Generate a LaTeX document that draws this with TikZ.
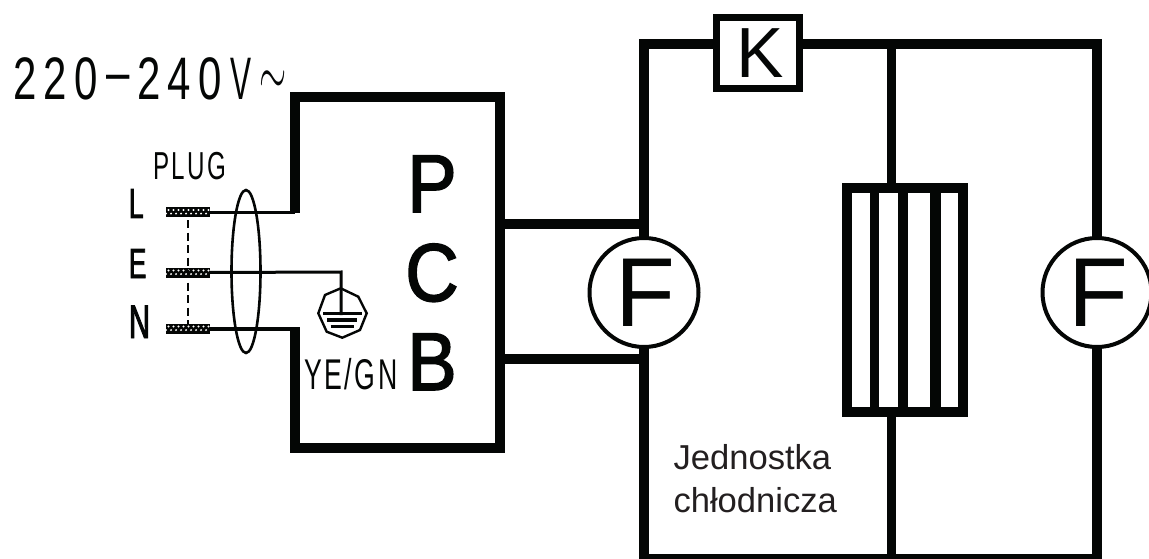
\documentclass[tikz,border=0pt]{standalone}
\usepackage{fontspec}
\usepackage{graphicx}
\usetikzlibrary{shapes.geometric}
\setmainfont{Liberation Sans}
\newfontfamily\arial{Liberation Sans}
\newfontfamily\arialb[FakeBold=2,FakeStretch=0.9]{Liberation Sans}
\newfontfamily\cad[FakeStretch=0.62,LetterSpace=6]{Liberation Sans}
\newfontfamily\cadv[FakeStretch=0.70]{Liberation Sans}
\newfontfamily\cadb[FakeStretch=0.62,FakeBold=2]{Liberation Sans}
\newcommand{\cell}[1]{\hbox to 31pt{#1\hss}}
\definecolor{ink}{HTML}{040605}
\definecolor{softink}{HTML}{231F20}
\tikzset{
  x=1pt,y=-1pt,
  heavy/.style={draw=ink,line width=10pt},
  mid/.style={draw=ink,line width=9.5pt},
  wire/.style={draw=ink,line width=3pt},
  lbl/.style={inner sep=0pt,outer sep=0pt,anchor=base west,text=ink},
  fan/.style={circle,draw=ink,line width=4pt,fill=white,minimum size=109pt,inner sep=0pt,outer sep=0pt,text=ink,font=\arial\fontsize{98}{98}\selectfont},
  relay/.style={rectangle,draw=ink,line width=7pt,fill=white,minimum width=83pt,minimum height=71pt,inner sep=0pt,outer sep=0pt,text=ink,font=\arial\fontsize{71}{71}\selectfont},
  heater/.style={rectangle,draw=ink,line width=10pt,fill=white,minimum width=115.5pt,minimum height=224pt,inner sep=0pt,outer sep=0pt},
  contact/.style={rectangle,fill=ink,minimum width=44pt,minimum height=10pt,inner sep=0pt,outer sep=0pt,
    path picture={
      \foreach \i in {0,...,8}{
        \fill[white] ([xshift=\i*5pt+2.5pt,yshift=-3pt]path picture bounding box.north west) circle (1.1pt);
        \fill[white] ([xshift=\i*5pt+0pt,yshift=-6.6pt]path picture bounding box.north west) circle (1.1pt);
      }
    }},
  pcbletter/.style={inner sep=0pt,outer sep=0pt,anchor=base,text=ink,font=\arialb\fontsize{82}{82}\selectfont},
}
\begin{document}
\begin{tikzpicture}
\path[use as bounding box,clip] (0,0) rectangle (1149,559);

% PCB outline
\coordinate (pcbA) at (294.5,213);
\coordinate (pcbB) at (294.5,97);
\coordinate (pcbC) at (499.5,97);
\coordinate (pcbD) at (499.5,448);
\coordinate (pcbE) at (294.5,448);
\coordinate (pcbF) at (294.5,327);
\coordinate (pcbG) at (499.5,224);
\coordinate (pcbH) at (499.5,358.5);
\draw[heavy] (pcbA) -- (pcbB) -- (pcbC) -- (pcbD) -- (pcbE) -- (pcbF);

% Outer frame
\coordinate (tl) at (644,44.5);
\coordinate (tr) at (1097,44.5);
\coordinate (bl) at (644,559);
\coordinate (br) at (1097,559);
\coordinate (tm) at (891.5,44.5);
\coordinate (bm) at (891.5,559);
\node[relay] (K) at (758,53) {\kern3.5pt K};
\node[fan] (F1) at (644,292.5) {\kern3.5pt F};
\node[fan] (F2) at (1097,292.5) {\kern3.5pt F};
\node[heater] (H) at (904.75,300) {};

\draw[heavy] (F1.south) -- (bl);
\draw[heavy] (F1.north) -- (tl) -- (tl -| K.west);
\draw[heavy] (tr -| K.east) -- (tr) -- (F2.north);
\draw[heavy] (F2.south) -- (br);
\draw[heavy] (bl) -- (br);
\draw[mid] (tm) -- (tm |- H.north);
\draw[mid] (bm |- H.south) -- (bm);
\draw[heavy] (pcbG) -- (pcbG -| F1.north);
\draw[heavy] (pcbH) -- (pcbH -| F1.south);

% heater bars
\draw[mid] ([xshift=27.7pt]H.north west) -- ([xshift=27.7pt]H.south west);
\draw[draw=ink,line width=10.5pt] ([xshift=56pt]H.north west) -- ([xshift=56pt]H.south west);
\draw[draw=ink,line width=10.5pt] ([xshift=88.3pt]H.north west) -- ([xshift=88.3pt]H.south west);

% plug
\node[contact] (pL) at (188,212) {};
\node[contact] (pE) at (188,272.5) {};
\node[contact] (pN) at (188,328.5) {};
\draw[draw=ink,line width=1.2pt,dash pattern=on 8pt off 4.5pt] (pL.south) ++(0,3) -- (pN.north);
\draw[wire] (pL.east) -- (pcbA |- pL.east);
\coordinate (gnd) at (341,272);
\coordinate (gndb) at (341,315);
\draw[wire] (pE.east) -- (gnd) -- (gndb);
\draw[draw=ink,line width=4pt] (pN.east) -- (pcbF |- pN.east);
\node[draw=ink,line width=2.6pt,ellipse,minimum width=29pt,minimum height=163pt,inner sep=0pt] (cuff) at (246,271.5) {};

% earth symbol
\draw[draw=ink,line width=2.4pt] (340.7,288.3) -- (358.3,296.7) -- (366.7,313.3) -- (360,330) -- (342.3,337.7) -- (326.7,331.7) -- (318.3,313.3) -- (325,295) -- cycle;
\draw[draw=ink,line width=3pt] (323,313.3) -- (361.7,313.3);
\draw[draw=ink,line width=3.5pt] (327.3,320) -- (357.3,320);
\draw[draw=ink,line width=3.5pt] (330.7,326.7) -- (354,326.7);

% labels
\node[lbl,font=\cadv\fontsize{60}{60}\selectfont] (volt) at (13,100) {\cell{2}\cell{2}\cell{0}\cell{\raisebox{7pt}{–}}\cell{2}\cell{4}\cell{0}\cell{\scalebox{0.75}[1]{V}}};
\node[lbl,font=\fontsize{40}{40}\selectfont] (tilde) at (259,95) {\scalebox{1.4}[2.6]{$\sim$}};
\node[lbl,font=\cad\fontsize{39}{39}\selectfont] (plug) at (153,179) {PLUG};
\node[lbl,font=\cadb\fontsize{42}{42}\selectfont] (tL) at (129,218) {L};
\node[lbl,font=\cadb\fontsize{42}{42}\selectfont] (tE) at (129,278) {E};
\node[lbl,font=\cadb\fontsize{47}{47}\selectfont] (tN) at (129,338) {N};
\node[lbl,font=\cad\fontsize{43}{43}\selectfont] (ye) at (304,389) {YE/GN};
\node[pcbletter] (P) at (432,212) {P};
\node[pcbletter] (C) at (432,301) {C};
\node[pcbletter] (B) at (432,390) {B};
\node[lbl,text=softink,font=\arial\fontsize{34.6}{34.6}\selectfont] (j1) at (673.5,469) {Jednostka};
\node[lbl,text=softink,font=\arial\fontsize{34.6}{34.6}\selectfont] (j2) at (673.5,512) {chłodnicza};
\end{tikzpicture}
\end{document}
